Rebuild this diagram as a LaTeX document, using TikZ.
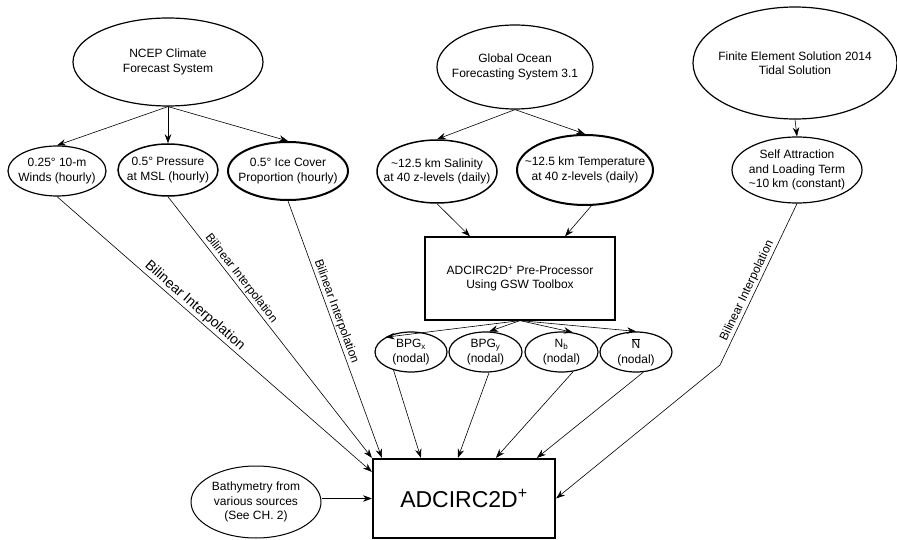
\documentclass[tikz,border=0pt]{standalone}
\usepackage{fontspec}
\setmainfont{Liberation Sans}
\usetikzlibrary{shapes.geometric,arrows.meta}

\begin{document}
\begin{tikzpicture}[x=1pt,y=-1pt,
  every label/.style={align=center,font=\fontsize{12}{14.5}\selectfont},
  oval/.style={ellipse,draw,inner sep=0pt,line width=1.2pt},
  heavy/.style={oval,line width=2pt},
  procbox/.style={draw,rectangle,inner sep=0pt,line width=1.2pt,align=center},
  link/.style={-{Stealth[length=9pt,width=6.5pt]},line width=0.6pt},
  interp/.style={sloped,above,inner sep=1.5pt,font=\fontsize{12}{14}\selectfont}]

\useasboundingbox (0,0) rectangle (897,540);

\node[oval,minimum width=190,minimum height=88,label={center:NCEP Climate\\Forecast System}] (ncep) at (168,62) {};
\node[oval,minimum width=156,minimum height=84,label={center:Global Ocean\\Forecasting System 3.1}] (ocean) at (515,67) {};
\node[oval,minimum width=204,minimum height=112,label={center:Finite Element Solution 2014\\Tidal Solution}] (fes) at (795,63) {};

\node[oval,minimum width=98,minimum height=50,label={center:0.25° 10-m\\Winds (hourly)}] (winds) at (57,171) {};
\node[oval,line width=1.5pt,minimum width=100,minimum height=52,label={center:0.5° Pressure\\at MSL (hourly)}] (press) at (168,170) {};
\node[heavy,minimum width=120,minimum height=58,label={center:0.5° Ice Cover\\Proportion (hourly)}] (ice) at (288,171) {};
\node[oval,line width=1.5pt,minimum width=120,minimum height=63,label={center:\textasciitilde12.5 km Salinity\\at 40 z-levels (daily)}] (sal) at (437,171.5) {};
\node[heavy,minimum width=136,minimum height=70,label={center:\textasciitilde12.5 km Temperature\\at 40 z-levels (daily)}] (temp) at (585,170) {};
\node[oval,minimum width=130,minimum height=66,label={center:Self Attraction\\and Loading Term\\\textasciitilde10 km (constant)}] (self) at (797,170) {};

\node[procbox,minimum width=190,minimum height=83,font=\fontsize{12}{14.5}\selectfont] (pre) at (520,278.5) {ADCIRC2D\textsuperscript{+} Pre-Processor\\Using GSW Toolbox};

\node[oval,minimum width=72,minimum height=40,label={center:BPG\textsubscript{x}\\(nodal)}] (bpgx) at (411,352) {};
\node[oval,minimum width=73,minimum height=40,label={center:BPG\textsubscript{y}\\(nodal)}] (bpgy) at (485.5,352) {};
\node[oval,minimum width=73,minimum height=40,label={center:N\textsubscript{b}\\(nodal)}] (nb) at (561.5,352) {};
\node[oval,minimum width=72,minimum height=40,label={center:$\overline{\hbox{N}}$\\(nodal)}] (nbar) at (636,352) {};

\node[oval,line width=1pt,minimum width=130,minimum height=72,label={center:Bathymetry from\\various sources\\(See CH. 2)}] (bath) at (256,502) {};
\node[procbox,line width=2.2pt,minimum width=182,minimum height=79,font=\fontsize{23}{26}\selectfont] (adc) at (464,498.5) {ADCIRC2D\textsuperscript{+}};

\draw[link] (ncep.south) -- (winds.north);
\draw[link] (ncep.south) -- (press.north);
\draw[link] (ncep.south) -- (ice.north);
\draw[link] (ocean.south) -- (sal.north);
\draw[link] (ocean.south) -- (temp.north);
\draw[link] (fes.south) -- (self.north);
\draw[link] (sal.south) -- ([xshift=-50pt]pre.north);
\draw[link] (temp.-80) -- ([xshift=45pt]pre.north);
\draw[link] (pre.south) -- (bpgx.150);
\draw[link] (pre.south) -- (bpgy.80);
\draw[link] (pre.south) -- (nb.60);
\draw[link] (pre.south) -- (nbar.north);

\draw[link] (winds.south) -- node[interp,pos=0.42,font=\fontsize{14}{16}\selectfont] {Bilinear Interpolation} ([yshift=-14pt]adc.north west);
\draw[link] (press.south) -- node[interp,pos=0.33] {Bilinear Interpolation} (adc.north west);
\draw[link] (ice.south) -- node[interp,pos=0.44] {Bilinear Interpolation} ([xshift=10pt]adc.north west);
\draw[link] (bpgx.-134) -- ([xshift=49pt]adc.north west);
\draw[link] (bpgy.-80) -- ([xshift=86pt]adc.north west);
\draw[link] (nb.-59) -- ([xshift=124pt]adc.north west);
\draw[link] (nbar.-70) -- ([xshift=165pt]adc.north west);
\coordinate (bend) at (720,365);
\draw[link] (self.south) -- node[interp,pos=0.56] {Bilinear Interpolation} (bend) -- (adc.east);
\draw[link] (bath.east |- adc.west) -- (adc.west);
\end{tikzpicture}
\end{document}
